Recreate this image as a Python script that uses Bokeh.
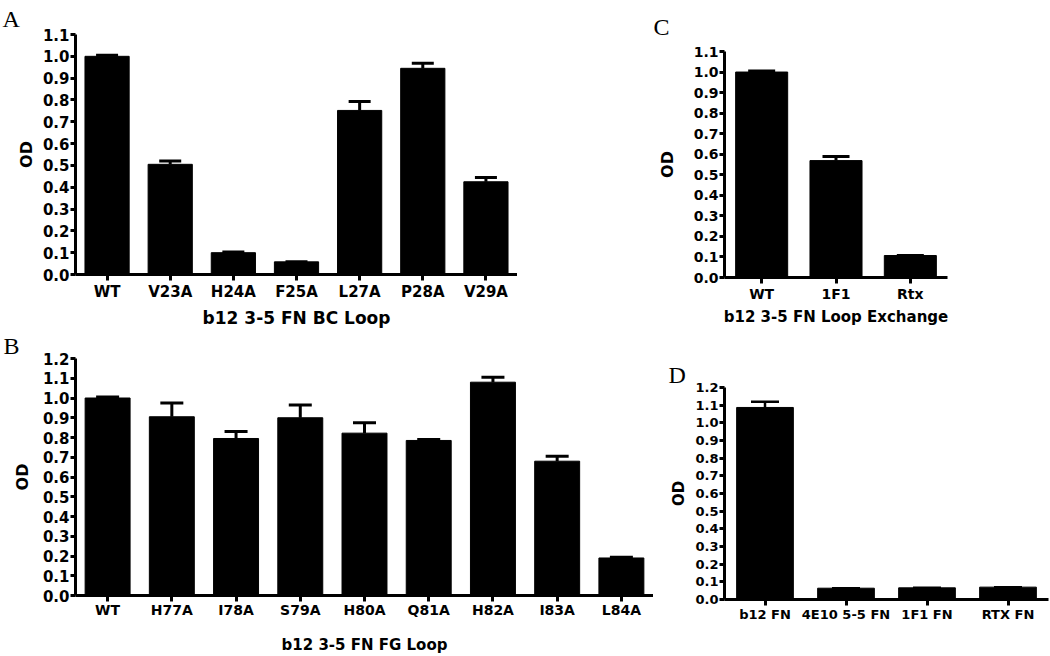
from bokeh.plotting import figure
from bokeh.layouts import row, column
from bokeh.models import (ColumnDataSource, Whisker, TeeHead, FixedTicker,
                          PrintfTickFormatter, Range1d)
from bokeh.embed import file_html
from bokeh.resources import INLINE

# ---------------- data ----------------
a_cats = ["WT", "V23A", "H24A", "F25A", "L27A", "P28A", "V29A"]
a_vals = [1.0, 0.505, 0.100, 0.058, 0.752, 0.945, 0.425]
a_hi = [1.005, 0.520, 0.103, 0.058, 0.793, 0.968, 0.445]
a_ticks = [0.0, 0.1, 0.2, 0.3, 0.4, 0.5, 0.6, 0.7, 0.8, 0.9, 1.0, 1.1]

b_cats = ["WT", "H77A", "I78A", "S79A", "H80A", "Q81A", "H82A", "I83A", "L84A"]
b_vals = [1.0, 0.905, 0.795, 0.900, 0.822, 0.785, 1.080, 0.680, 0.190]
b_hi = [1.005, 0.975, 0.830, 0.965, 0.875, 0.790, 1.105, 0.705, 0.194]
b_ticks = [0.0, 0.1, 0.2, 0.3, 0.4, 0.5, 0.6, 0.7, 0.8, 0.9, 1.0, 1.1, 1.2]

c_cats = ["WT", "1F1", "Rtx"]
c_vals = [1.0, 0.569, 0.107]
c_hi = [1.005, 0.589, 0.107]
c_ticks = [0.0, 0.1, 0.2, 0.3, 0.4, 0.5, 0.6, 0.7, 0.8, 0.9, 1.0, 1.1]

d_cats = ["b12 FN", "4E10 5-5 FN", "1F1 FN", "RTX FN"]
d_vals = [1.087, 0.064, 0.066, 0.070]
d_hi = [1.120, 0.064, 0.066, 0.070]
d_ticks = [0.0, 0.1, 0.2, 0.3, 0.4, 0.5, 0.6, 0.7, 0.8, 0.9, 1.0, 1.1, 1.2]

FONT = "DejaVu Sans"


def panel(cats, vals, hi, ticks, ymax, title, letter, w, h, ml, mr, mt, mb,
          tick_fs, cat_fs, title_fs, od_fs, cap, lw,
          cat_sd, title_sd, od_sd, let_off, let_sd):
    p = figure(width=w, height=h, x_range=cats, y_range=Range1d(0, ymax),
               output_backend="svg", toolbar_location=None, title=letter,
               min_border_left=ml, min_border_right=mr,
               min_border_top=mt, min_border_bottom=mb)
    p.title.align = "left"
    p.title.offset = let_off
    p.title.standoff = let_sd
    p.title.text_font = "Liberation Serif"
    p.title.text_font_style = "normal"
    p.title.text_font_size = "24px"
    p.title.text_color = "black"

    src = ColumnDataSource(dict(cat=cats, val=vals, hi=hi))
    p.vbar(x="cat", top="val", width=0.7, source=src,
           fill_color="black", line_color="black")
    p.add_layout(Whisker(source=src, base="cat", upper="hi", lower="val",
                         line_color="black", line_width=lw,
                         upper_head=TeeHead(size=cap, line_width=lw, line_color="black"),
                         lower_head=None))
    p.xgrid.visible = False
    p.ygrid.visible = False
    p.outline_line_color = None
    p.background_fill_color = "white"
    p.border_fill_color = "white"

    p.yaxis.ticker = FixedTicker(ticks=ticks)
    p.yaxis.formatter = PrintfTickFormatter(format="%.1f")
    p.yaxis.axis_label = "OD"

    for ax in (p.xaxis[0], p.yaxis[0]):
        ax.axis_line_width = 3
        ax.axis_line_color = "black"
        ax.major_tick_line_width = 3
        ax.major_tick_line_color = "black"
        ax.major_tick_in = 0
        ax.minor_tick_line_color = None
        ax.major_label_text_font = FONT
        ax.major_label_text_font_style = "bold"
        ax.major_label_text_color = "black"
        ax.axis_label_text_font = FONT
        ax.axis_label_text_font_style = "bold"
        ax.axis_label_text_color = "black"

    p.yaxis.major_tick_out = 5
    p.yaxis.major_label_standoff = 1
    p.yaxis.major_label_text_font_size = f"{tick_fs}px"
    p.yaxis.axis_label_text_font_size = f"{od_fs}px"
    p.yaxis.axis_label_standoff = od_sd

    p.xaxis.major_tick_out = 6
    p.xaxis.major_label_standoff = cat_sd
    p.xaxis.major_label_text_font_size = f"{cat_fs}px"
    if title:
        p.xaxis.axis_label = title
        p.xaxis.axis_label_text_font_size = f"{title_fs}px"
        p.xaxis.axis_label_standoff = title_sd
    return p


pA = panel(a_cats, a_vals, a_hi, a_ticks, 1.1, "b12 3-5 FN BC Loop", "A",
           517, 330, 75, 0, 34, 56, 15, 15, 17, 16, 22, 3,
           2, 4, 4, -73, 5)
pB = panel(b_cats, b_vals, b_hi, b_ticks, 1.2, "b12 3-5 FN FG Loop", "B",
           653, 326, 75, 0, 27, 60, 15, 14, 15, 16, 23, 3,
           0, 15, 8, -72, 0)
pC = panel(c_cats, c_vals, c_hi, c_ticks, 1.1, "b12 3-5 FN Loop Exchange", "C",
           296, 340, 71, 2, 51, 63, 14, 14, 15, 16, 27, 3,
           2, 3, 14, -71, 23)
pD = panel(d_cats, d_vals, d_hi, d_ticks, 1.2, None, "D",
           397, 316, 71, 2, 47, 57, 13, 13, 15, 15, 28, 2.5,
           1, 5, 4, -56, 0)

layout = row(column(pA, pB), column(pC, pD))

open("out.html", "w").write(file_html(layout, INLINE))
